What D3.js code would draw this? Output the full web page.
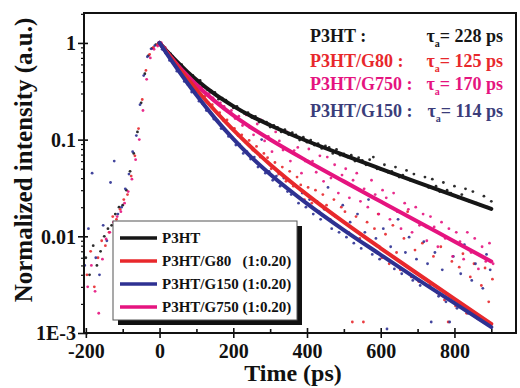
<!DOCTYPE html>
<html><head><meta charset="utf-8">
<script src="https://cdn.jsdelivr.net/npm/d3@7"></script>
<style>
body{margin:0;background:#fff}
svg{display:block}
text{font-family:"Liberation Serif","Times New Roman",serif;font-weight:bold}
</style>
</head><body>
<svg id="c" width="520" height="388"></svg>
<script>
// ---------- data ----------
const seriesNames = ["P3HT", "P3HT/G80", "P3HT/G150", "P3HT/G750"];
const legendLabels = ["P3HT", "P3HT/G80   (1:0.20)", "P3HT/G150 (1:0.20)", "P3HT/G750 (1:0.20)"];
const annoLabels = ["P3HT :", "P3HT/G80 :", "P3HT/G750 :", "P3HT/G150 :"];
const annoTau = [228, 125, 170, 114];

const xTickValues = [-200, 0, 200, 400, 600, 800];
const xMinorValues = [-100, 100, 300, 500, 700, 900];
const yTickValues = [0.001, 0.01, 0.1, 1];
const yTickLabels = ["1E-3", "0.01", "0.1", "1"];

// measured decay points (10 ps channels, -200 ... 900 ps)
const timeP3HT = d3.range(-200, 901, 10);
const timeG80 = d3.range(-197, 904, 10);
const timeG150 = d3.range(-203, 898, 10);
const timeG750 = d3.range(-195, 906, 10);

const dataP3HT = [
  0.006,0.004,0.008,0.005,0.007,0.010,0.012,0.013,0.017,0.020,
  0.021,0.030,0.047,0.072,0.120,0.240,0.480,0.740,0.880,0.960,
  1.000,
  0.920,0.800,0.770,0.670,0.630,0.595,0.500,0.480,0.462,0.400,
  0.410,0.355,0.328,0.320,0.307,0.262,0.268,0.256,0.233,0.213,
  0.220,0.199,0.186,0.190,0.170,0.174,0.152,0.156,0.152,0.135,
  0.140,0.134,0.120,0.127,0.113,0.118,0.112,0.099,0.106,0.094,
  0.099,0.088,0.091,0.081,0.086,0.083,0.072,0.079,0.069,0.071,
  0.066,0.069,0.060,0.065,0.061,0.055,0.062,0.066,0.050,0.049,
  0.055,0.046,0.047,0.052,0.041,0.043,0.048,0.038,0.044,0.036,
  0.035,0.041,0.032,0.039,0.033,0.029,0.036,0.030,0.028,0.033,
  0.025,0.027,0.031,0.023,0.029,0.022,0.021,0.026,0.020,0.023];
const dataG80 = [
  0.004,0.007,0.003,0.006,0.009,0.008,0.011,0.016,0.015,0.019,
  0.024,0.027,0.042,0.068,0.130,0.260,0.520,0.760,0.900,0.950,
  1.000,
  0.880,0.810,0.700,0.640,0.550,0.520,0.450,0.420,0.360,0.340,
  0.290,0.280,0.240,0.230,0.195,0.190,0.158,0.160,0.132,0.131,
  0.110,0.112,0.094,0.098,0.078,0.085,0.066,0.072,0.065,0.050,
  0.058,0.044,0.052,0.037,0.047,0.033,0.041,0.034,0.024,0.032,
  0.022,0.030,0.018,0.027,0.021,0.015,0.024,0.013,0.020,0.018,
  0.011,0.0013,0.016,0.0095,0.0013,0.014,0.0075,0.012,0.017,0.006,
  0.0105,0.0052,0.013,0.0068,0.0045,0.0095,0.018,0.0038,0.0072,0.0034,
  0.0085,0.0125,0.0031,0.0062,0.0026,0.0078,0.0022,0.0013,0.0055,0.0019,
  0.0048,0.0066,0.0016,0.0038,0.0052,0.0014,0.0031,0.0047,0.0021,0.0036];
const dataG150 = [
  0.005,0.012,0.045,0.006,0.004,0.013,0.009,0.036,0.060,0.017,
  0.020,0.031,0.044,0.075,0.110,0.230,0.460,0.720,0.870,0.940,
  1.000,
  0.860,0.780,0.660,0.610,0.510,0.480,0.400,0.370,0.310,0.300,
  0.250,0.235,0.200,0.192,0.163,0.157,0.130,0.128,0.108,0.105,
  0.088,0.089,0.072,0.075,0.063,0.066,0.052,0.100,0.045,0.047,
  0.038,0.042,0.033,0.040,0.029,0.027,0.034,0.022,0.028,0.020,
  0.024,0.017,0.023,0.015,0.019,0.032,0.012,0.016,0.011,0.021,
  0.0098,0.014,0.0085,0.017,0.0075,0.011,0.024,0.0065,0.0095,0.0058,
  0.012,0.0011,0.0078,0.0046,0.015,0.0041,0.0068,0.0098,0.0035,0.0058,
  0.0031,0.0088,0.0052,0.0013,0.0068,0.0024,0.0045,0.0021,0.0013,0.0062,
  0.0018,0.0041,0.0082,0.0016,0.0035,0.0052,0.0014,0.0029,0.0065,0.0045];
const dataG750 = [
  0.003,0.005,0.0027,0.0016,0.0058,0.0094,0.011,0.014,0.016,0.018,
  0.022,0.029,0.039,0.062,0.100,0.200,0.420,0.700,0.860,0.930,
  1.000,
  0.900,0.790,0.730,0.650,0.590,0.520,0.490,0.450,0.390,0.370,
  0.350,0.300,0.300,0.270,0.240,0.240,0.220,0.195,0.200,0.165,
  0.175,0.140,0.180,0.133,0.112,0.145,0.160,0.097,0.108,0.075,
  0.120,0.097,0.078,0.120,0.060,0.077,0.083,0.045,0.060,0.080,
  0.060,0.046,0.068,0.037,0.066,0.040,0.055,0.028,0.043,0.050,
  0.025,0.038,0.045,0.023,0.031,0.020,0.038,0.027,0.017,0.030,
  0.025,0.015,0.028,0.018,0.012,0.022,0.019,0.011,0.020,0.013,
  0.017,0.009,0.016,0.0125,0.0078,0.014,0.0095,0.012,0.0062,0.011,
  0.0088,0.0058,0.011,0.0068,0.0095,0.0046,0.0078,0.0055,0.0085,0.0052];

// fitted decays
const fitTime = [0, 25, 50, 75, 100, 150, 200, 250, 300, 400, 500, 600, 700, 800, 900];
const fitP3HT = [1, 0.784, 0.624, 0.505, 0.416, 0.295, 0.222, 0.174, 0.141, 0.0968, 0.0691, 0.0499, 0.0362, 0.0264, 0.0192];
const fitG80  = [1, 0.749, 0.565, 0.430, 0.330, 0.200, 0.126, 0.0824, 0.0554, 0.0270, 0.0140, 0.00752, 0.00410, 0.00225, 0.00124];
const fitG150 = [1, 0.722, 0.526, 0.387, 0.289, 0.167, 0.1016, 0.0652, 0.0439, 0.0218, 0.0116, 0.00644, 0.00359, 0.00204, 0.00115];
const fitG750 = [1, 0.758, 0.585, 0.461, 0.369, 0.250, 0.178, 0.132, 0.1003, 0.0602, 0.0370, 0.0229, 0.0142, 0.00885, 0.0055];

// ---------- styles ----------
const colors = {"P3HT":"#161616","P3HT/G80":"#e8282c","P3HT/G150":"#2e3192","P3HT/G750":"#e5147f"};
const annoColors = ["#161616", "#e8282c", "#e5147f", "#3b3d7a"];

const svg = d3.select("#c");
const L = 84, R = 516, T = 13, B = 333;
const x = d3.scaleLinear().domain([-205, 967]).range([L, R]);
const y = d3.scaleLog().domain([0.001, 2.04]).range([B, T]);

svg.append("defs").append("clipPath").attr("id","clip")
  .append("rect").attr("x",L).attr("y",T).attr("width",R-L).attr("height",B-T);

const scatter = [
  {name:"P3HT", t:timeP3HT, v:dataP3HT},
  {name:"P3HT/G80", t:timeG80, v:dataG80},
  {name:"P3HT/G150", t:timeG150, v:dataG150},
  {name:"P3HT/G750", t:timeG750, v:dataG750}
];
const dots = svg.append("g").attr("clip-path","url(#clip)");
scatter.forEach(s => {
  const pts = s.t.map((t,i)=>({t, v:s.v[i]}));
  dots.selectAll(null).data(pts).enter().append("circle")
    .attr("cx", d=>x(d.t)).attr("cy", d=>y(d.v)).attr("r", 1.4)
    .attr("fill", colors[s.name]).attr("opacity", 0.9);
});

const fits = [
  {name:"P3HT", v:fitP3HT},
  {name:"P3HT/G750", v:fitG750},
  {name:"P3HT/G80", v:fitG80},
  {name:"P3HT/G150", v:fitG150}
];
const line = d3.line().x(d=>x(d[0])).y(d=>y(d[1])).curve(d3.curveMonotoneX);
fits.forEach(f => {
  svg.append("path").datum(fitTime.map((t,i)=>[t, f.v[i]]))
    .attr("d", line).attr("fill","none").attr("stroke", colors[f.name])
    .attr("stroke-width", 4).attr("stroke-linecap","round");
});

// ---------- axes ----------
function styleAxis(g){ g.select(".domain").remove(); g.selectAll("line").attr("stroke","#111").attr("stroke-width",1.6); }

const xMajor = svg.append("g").attr("transform",`translate(0,${B})`)
  .call(d3.axisBottom(x).tickValues(xTickValues).tickFormat(d=>d).tickSize(5).tickSizeOuter(0));
styleAxis(xMajor);
xMajor.selectAll("text").attr("y", 25).attr("dy", 0).attr("font-size", 20).attr("fill","#111");
const xIn = svg.append("g").attr("transform",`translate(0,${B})`)
  .call(d3.axisTop(x).tickValues(xTickValues).tickFormat("").tickSize(5).tickSizeOuter(0));
styleAxis(xIn);
const xMin = svg.append("g").attr("transform",`translate(0,${B})`)
  .call(d3.axisTop(x).tickValues(xMinorValues).tickFormat("").tickSize(4).tickSizeOuter(0));
styleAxis(xMin);

const yMajor = svg.append("g").attr("transform",`translate(${L},0)`)
  .call(d3.axisLeft(y).tickValues(yTickValues).tickFormat((d,i)=>yTickLabels[i]).tickSize(6).tickSizeOuter(0));
styleAxis(yMajor);
yMajor.selectAll("text").attr("x", -8).attr("dy","0.34em").attr("font-size", 20).attr("fill","#111");
const yIn = svg.append("g").attr("transform",`translate(${L},0)`)
  .call(d3.axisRight(y).tickValues(yTickValues).tickFormat("").tickSize(4).tickSizeOuter(0));
styleAxis(yIn);
const yMinorVals = y.ticks().filter(v => !yTickValues.some(m => Math.abs(m - v) / m < 1e-6));
const yMin = svg.append("g").attr("transform",`translate(${L},0)`)
  .call(d3.axisLeft(y).tickValues(yMinorVals).tickFormat("").tickSize(3).tickSizeOuter(0));
styleAxis(yMin);
yMin.selectAll("line").attr("stroke-width",1.2);

svg.append("rect").attr("x",L).attr("y",T).attr("width",R-L).attr("height",B-T)
  .attr("fill","none").attr("stroke","#111").attr("stroke-width",2);

svg.append("text").attr("x", 293).attr("y", 381).attr("text-anchor","middle")
  .attr("font-size", 24).attr("fill","#111").text("Time (ps)");
svg.append("text").attr("transform","translate(32,160) rotate(-90)").attr("text-anchor","middle")
  .attr("font-size", 25).attr("fill","#111").text("Normalized intensity (a.u.)");

// ---------- annotation ----------
const annoY = [42, 67, 90, 117];
annoLabels.forEach((lab,i) => {
  svg.append("text").attr("x", 310).attr("y", annoY[i]).attr("font-size", 18)
    .attr("fill", annoColors[i]).text(lab);
  const t = svg.append("text").attr("x", 503).attr("y", annoY[i]).attr("font-size", 18)
    .attr("text-anchor","end").attr("fill", annoColors[i]);
  t.append("tspan").text("τ");
  t.append("tspan").attr("font-size", 10).attr("dy", 5).text("a");
  t.append("tspan").attr("dy", -5).text("= " + annoTau[i] + " ps");
});

// ---------- legend ----------
const lg = svg.append("g");
lg.append("rect").attr("x",118).attr("y",226).attr("width",184).attr("height",99).attr("fill","#111");
lg.append("rect").attr("x",113).attr("y",221).attr("width",184).attr("height",99)
  .attr("fill","#fff").attr("stroke","#555").attr("stroke-width",1);
const legY = [238, 261, 284, 307];
seriesNames.forEach((n,i) => {
  lg.append("line").attr("x1",120).attr("x2",157).attr("y1",legY[i]).attr("y2",legY[i])
    .attr("stroke", colors[n]).attr("stroke-width", 3.5);
  lg.append("text").attr("x",162).attr("y",legY[i]+5).attr("font-size",15)
    .attr("fill","#111").style("white-space","pre").text(legendLabels[i]);
});
</script>
</body></html>
